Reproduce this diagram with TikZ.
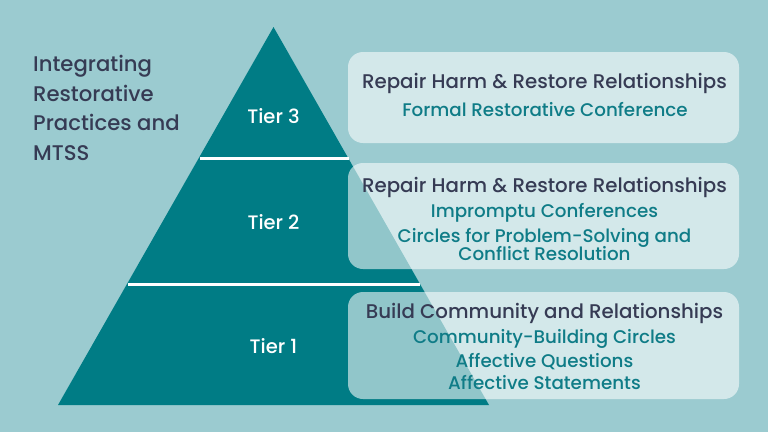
\documentclass[tikz,border=0pt]{standalone}
\usepackage{fontspec}
\setmainfont{Poppins}[UprightFont={* Medium}]
\definecolor{bgc}{HTML}{9BCBD0}
\definecolor{tric}{HTML}{007C85}
\definecolor{darktxt}{HTML}{363B54}
\definecolor{tealtxt}{HTML}{0F7C87}
\tikzset{
  panel/.style={fill=white, fill opacity=0.57, rounded corners=15pt, inner sep=0pt},
  sepline/.style={draw=white, line width=3pt},
  hd/.style={font=\fontsize{19.8}{22}\selectfont, text=darktxt, anchor=base, inner sep=0pt},
  it/.style={font=\fontsize{18.3}{19}\selectfont, text=tealtxt, anchor=base, inner sep=0pt},
  tier/.style={font=\fontsize{19.5}{22}\selectfont, text=white, anchor=base, inner sep=0pt},
  ttl/.style={font=\fontsize{21.2}{29.7}\selectfont, text=darktxt, anchor=north west, inner sep=0pt, align=left}
}
\begin{document}
\begin{tikzpicture}[x=1pt,y=-1pt]
\fill[bgc] (0,0) rectangle (768,432);
\useasboundingbox (0,0) rectangle (768,432);
% pyramid
\coordinate (apex) at (273.5,27);
\coordinate (bl) at (58,405);
\coordinate (br) at (489,405);
\fill[tric] (apex) -- (bl) -- (br) -- cycle;
\coordinate (s1l) at (199.5,158);
\coordinate (s1r) at (348.5,158);
\coordinate (s2l) at (127.5,284);
\coordinate (s2r) at (419.5,284);
\draw[sepline] (s1l) -- (s1r);
\draw[sepline] (s2l) -- (s2r);
% tier labels
\node[tier] (t3) at (273.5,123) {Tier 3};
\node[tier] (t2) at (273.5,229) {Tier 2};
\node[tier] (t1) at (273.5,353) {Tier 1};
% title
\node[ttl] (title) at (33,55) {Integrating\\Restorative\\Practices and\\MTSS};
% panels
\node[panel, minimum width=391pt, minimum height=91pt] (p1) at (543.5,97.5) {};
\node[panel, minimum width=391pt, minimum height=106pt] (p2) at (543.5,216) {};
\node[panel, minimum width=391pt, minimum height=107pt] (p3) at (543.5,345.5) {};
% panel texts
\node[hd] (h1) at (544.5,88) {Repair Harm \& Restore Relationships};
\node[it] (a1) at (545,116) {Formal Restorative Conference};
\node[hd] (h2) at (544.5,192) {Repair Harm \& Restore Relationships};
\node[it] (a2) at (544.5,217) {Impromptu Conferences};
\node[it] (a3) at (544.5,242) {Circles for Problem-Solving and};
\node[it] (a4) at (544.5,260) {Conflict Resolution};
\node[hd] (h3) at (544.5,318) {Build Community and Relationships};
\node[it] (a5) at (544.5,343) {Community-Building Circles};
\node[it] (a6) at (544.5,367) {Affective Questions};
\node[it] (a7) at (544.5,389) {Affective Statements};
\end{tikzpicture}
\end{document}
